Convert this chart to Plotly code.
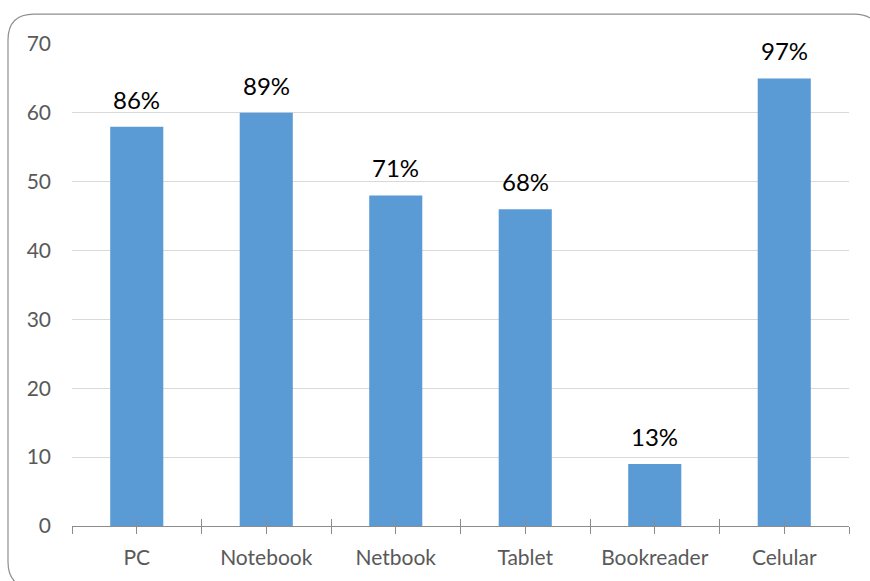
import plotly.graph_objects as go

# Device ownership survey: respondents per device and share of the sample
devices = ["PC", "Notebook", "Netbook", "Tablet", "Bookreader", "Celular"]
counts = [58, 60, 48, 46, 9, 65]
share_labels = ["86%", "89%", "71%", "68%", "13%", "97%"]
y_ticks = [0, 10, 20, 30, 40, 50, 60, 70]

W, H = 870, 581
M_L, M_R, M_T, M_B = 72, 21, 44, 53
PW, PH = W - M_L - M_R, H - M_T - M_B

FONT = "Lato"
BAR = "#5b9bd5"
AXIS = "#8c8c8c"
GRID = "#d9d9d9"
TXT = "#595959"

xpos = list(range(len(devices)))
# tick marks at both category centres and category boundaries
tick_pos = [i * 0.5 - 0.5 for i in range(2 * len(devices) + 1)]
tick_txt = [devices[int(p)] if float(p).is_integer() else "" for p in tick_pos]

fig = go.Figure()
fig.add_trace(go.Bar(
    x=xpos, y=counts, marker=dict(color=BAR, line=dict(width=0)),
    width=0.41, hoverinfo="x+y",
))
# invisible companion trace that carries the inner half of the tick marks
fig.add_trace(go.Scatter(x=xpos, y=counts, mode="none", xaxis="x2",
                         hoverinfo="skip", showlegend=False))

for xi, c, lab in zip(xpos, counts, share_labels):
    fig.add_annotation(x=xi, y=c, text=lab, showarrow=False,
                       yanchor="bottom", yshift=11,
                       font=dict(family=FONT, size=24, color="#000000"))


def px_x(p):
    return (p - M_L) / PW


def px_y(p):
    return (H - M_B - p) / PH


# rounded chart-area border
bx0, bx1, by0, by1, r = 8, 880, 14, 590, 26
path = (
    f"M {px_x(bx0 + r)} {px_y(by0)} L {px_x(bx1 - r)} {px_y(by0)} "
    f"Q {px_x(bx1)} {px_y(by0)} {px_x(bx1)} {px_y(by0 + r)} "
    f"L {px_x(bx1)} {px_y(by1 - r)} "
    f"Q {px_x(bx1)} {px_y(by1)} {px_x(bx1 - r)} {px_y(by1)} "
    f"L {px_x(bx0 + r)} {px_y(by1)} "
    f"Q {px_x(bx0)} {px_y(by1)} {px_x(bx0)} {px_y(by1 - r)} "
    f"L {px_x(bx0)} {px_y(by0 + r)} "
    f"Q {px_x(bx0)} {px_y(by0)} {px_x(bx0 + r)} {px_y(by0)} Z"
)
fig.add_shape(type="path", path=path, xref="paper", yref="paper",
              line=dict(color="#8f8f8f", width=1.2), layer="above")

fig.update_layout(
    width=W, height=H,
    margin=dict(l=M_L, r=M_R, t=M_T, b=M_B, pad=0),
    paper_bgcolor="white", plot_bgcolor="white",
    showlegend=False,
    font=dict(family=FONT, color=TXT),
    xaxis=dict(
        range=[-0.5, len(devices) - 0.5], tickmode="array",
        tickvals=tick_pos, ticktext=tick_txt,
        ticks="outside", ticklen=7, tickwidth=1.3, tickcolor=AXIS,
        showline=True, linecolor=AXIS, linewidth=1.3,
        showgrid=False, zeroline=False,
        tickfont=dict(family=FONT, size=21, color=TXT),
        ticklabelstandoff=6,
    ),
    xaxis2=dict(
        overlaying="x", matches="x", side="bottom", anchor="y",
        tickmode="array", tickvals=tick_pos, ticktext=[""] * len(tick_pos),
        ticks="inside", ticklen=7, tickwidth=1.3, tickcolor=AXIS,
        showline=False, showgrid=False, zeroline=False,
    ),
    yaxis=dict(
        range=[0, 70], tickmode="array", tickvals=y_ticks,
        ticks="", showline=False, zeroline=False,
        showgrid=True, gridcolor=GRID, gridwidth=1,
        tickfont=dict(family=FONT, size=21, color=TXT),
        ticklabelstandoff=20,
    ),
)

fig.write_html("out.html")
